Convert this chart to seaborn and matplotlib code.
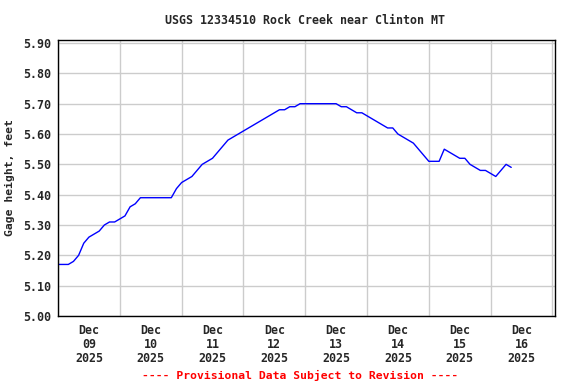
import numpy as np
import pandas as pd
import matplotlib
matplotlib.use("Agg")
import matplotlib.pyplot as plt
import matplotlib.dates as mdates
import seaborn as sns

# gage height, every 2 hours from Dec 09 00:00
gage_height = [
    5.17, 5.17, 5.17, 5.18, 5.20, 5.24, 5.26, 5.27, 5.28, 5.30,
    5.31, 5.31, 5.32, 5.33, 5.36, 5.37, 5.39, 5.39, 5.39, 5.39,
    5.39, 5.39, 5.39, 5.42, 5.44, 5.45, 5.46, 5.48, 5.50, 5.51,
    5.52, 5.54, 5.56, 5.58, 5.59, 5.60, 5.61, 5.62, 5.63, 5.64,
    5.65, 5.66, 5.67, 5.68, 5.68, 5.69, 5.69, 5.70, 5.70, 5.70,
    5.70, 5.70, 5.70, 5.70, 5.70, 5.69, 5.69, 5.68, 5.67, 5.67,
    5.66, 5.65, 5.64, 5.63, 5.62, 5.62, 5.60, 5.59, 5.58, 5.57,
    5.55, 5.53, 5.51, 5.51, 5.51, 5.55, 5.54, 5.53, 5.52, 5.52,
    5.50, 5.49, 5.48, 5.48, 5.47, 5.46, 5.48, 5.50, 5.49,
]
start_time = "2025-12-09 00:00"
y_ticks = [5.00, 5.10, 5.20, 5.30, 5.40, 5.50, 5.60, 5.70, 5.80, 5.90]

times = pd.date_range(start_time, periods=len(gage_height), freq="2h")
df = pd.DataFrame({"time": times, "gage": gage_height})

sns.set_style("white")
plt.rcParams["font.family"] = ["DejaVu Sans Mono", "DejaVu Sans"]
plt.rcParams["font.weight"] = "bold"

fig = plt.figure(figsize=(5.76, 3.84), dpi=100)
ax = fig.add_axes([58 / 576, 1 - 316 / 384, 497 / 576, 276 / 384])

sns.lineplot(data=df, x="time", y="gage", color="#0000ff", linewidth=1.0, ax=ax)

ax.set_ylim(5.0, 5.91)
ax.set_xlim(pd.Timestamp("2025-12-09 00:00"), pd.Timestamp("2025-12-17 01:00"))
ax.set_yticks(y_ticks)
ax.set_yticklabels([f"{v:.2f}" for v in y_ticks])

ax.xaxis.set_major_locator(mdates.DayLocator())
ax.xaxis.set_major_formatter(plt.NullFormatter())
ax.xaxis.set_minor_locator(mdates.HourLocator(byhour=12))
ax.xaxis.set_minor_formatter(mdates.DateFormatter("%b\n%d\n%Y"))

ax.grid(True, which="major", color="#cccccc", linewidth=1.0)
ax.tick_params(axis="both", which="both", length=0, labelsize=8.4)
ax.tick_params(axis="x", which="minor", pad=6)
ax.tick_params(axis="y", pad=5)
fig.canvas.draw()
for lab in ax.get_xticklabels(minor=True):
    lab.set_fontweight("bold")
    lab.set_linespacing(1.08)

for s in ax.spines.values():
    s.set_color("black")
    s.set_linewidth(1.0)

ax.set_xlabel("")
ax.set_ylabel("Gage height, feet", fontsize=8.2, fontweight="bold", labelpad=6)

fig.text(305 / 576, 1 - 20 / 384, "USGS 12334510 Rock Creek near Clinton MT",
         ha="center", va="center", fontsize=8.4, fontweight="bold")
fig.text(300 / 576, 1 - 375 / 384, "---- Provisional Data Subject to Revision ----",
         ha="center", va="center", fontsize=8.2, fontweight="bold", color="red")

fig.savefig("out.png", dpi=100)
